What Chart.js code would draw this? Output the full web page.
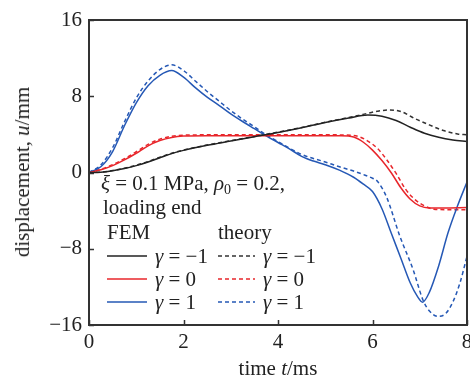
<!DOCTYPE html>
<html>
<head>
<meta charset="utf-8">
<script src="https://cdn.jsdelivr.net/npm/chart.js@4"></script>
<style>
  body { margin: 0; background: #fff; }
  #wrap {
    position: relative; width: 470px; height: 381px; overflow: hidden;
    font-family: "Liberation Serif", "Times New Roman", serif;
    font-size: 21px; color: #222;
  }
  #chart { position: absolute; left: 0; top: 0; }
  .t { position: absolute; white-space: nowrap; line-height: 24px; }
  .ytitle { left: 22px; top: 172px; transform: translate(-50%, -50%) rotate(-90deg); }
  .xtitle { left: 278px; top: 368px; transform: translate(-50%, -50%); }
  .sample { position: absolute; width: 40px; height: 4px; }
  sub { font-size: 14px; vertical-align: -4px; line-height: 0; }
</style>
</head>
<body>
<div id="wrap">
  <canvas id="chart" width="470" height="381"></canvas>
  <div class="t ytitle">displacement, <i>u</i>/mm</div>
  <div class="t xtitle">time <i>t</i>/ms</div>
  <div class="t" style="left:101px;top:171px"><i>ξ</i> = 0.1 MPa, <i>ρ</i><sub>0</sub> = 0.2,</div>
  <div class="t" style="left:103px;top:195px">loading end</div>
  <div class="t" style="left:107px;top:220px">FEM</div>
  <div class="t" style="left:218px;top:220px">theory</div>
  <div id="legend"></div>
</div>
<script>
(function () {
  "use strict";

  // --- Data ---

  var xTicks = [0, 2, 4, 6, 8];
  var yTicks = [-16, -8, 0, 8, 16];

  var femBlackT = [0, 0.25, 0.5, 0.75, 1.0, 1.25, 1.5, 1.75, 2.0, 2.5, 3.0, 3.5, 4.0, 4.5, 5.0, 5.5, 5.9, 6.2, 6.5, 6.8, 7.1, 7.4, 7.7, 8.0];
  var femBlackU = [0, 0.03, 0.18, 0.42, 0.72, 1.1, 1.55, 1.98, 2.32, 2.85, 3.3, 3.75, 4.2, 4.7, 5.25, 5.72, 6.02, 5.9, 5.45, 4.75, 4.12, 3.7, 3.42, 3.25];

  var thBlackT = [0, 0.25, 0.5, 0.75, 1.0, 1.25, 1.5, 1.75, 2.0, 2.5, 3.0, 3.5, 4.0, 4.5, 5.0, 5.5, 5.8, 6.1, 6.35, 6.6, 6.9, 7.2, 7.5, 7.8, 8.0];
  var thBlackU = [0, 0.04, 0.2, 0.45, 0.76, 1.15, 1.6, 2.02, 2.35, 2.88, 3.33, 3.78, 4.23, 4.72, 5.27, 5.78, 6.1, 6.42, 6.56, 6.4, 5.65, 5.0, 4.4, 4.05, 3.95];

  var femRedT = [0, 0.25, 0.5, 0.75, 1.0, 1.25, 1.5, 1.75, 2.0, 2.5, 3.0, 4.0, 5.0, 5.3, 5.6, 5.8, 6.0, 6.2, 6.4, 6.6, 6.8, 7.0, 7.2, 7.5, 8.0];
  var femRedU = [0, 0.28, 0.72, 1.32, 2.02, 2.8, 3.35, 3.68, 3.82, 3.86, 3.86, 3.86, 3.86, 3.85, 3.72, 3.2, 2.35, 1.25, -0.05, -1.6, -2.8, -3.5, -3.72, -3.72, -3.68];

  var thRedT = [0, 0.25, 0.5, 0.75, 1.0, 1.25, 1.5, 1.75, 2.0, 2.5, 3.0, 4.0, 5.0, 5.4, 5.7, 5.9, 6.1, 6.3, 6.5, 6.7, 6.9, 7.1, 7.3, 7.6, 8.0];
  var thRedU = [0, 0.33, 0.82, 1.45, 2.18, 2.95, 3.5, 3.8, 3.92, 3.95, 3.95, 3.95, 3.95, 3.94, 3.78, 3.3, 2.55, 1.35, -0.1, -1.75, -2.85, -3.5, -3.85, -3.9, -3.9];

  var femBlueT = [0, 0.25, 0.5, 0.75, 1.0, 1.25, 1.5, 1.75, 2.0, 2.25, 2.5, 2.75, 3.0, 3.25, 3.5, 3.75, 4.0, 4.25, 4.5, 4.75, 5.0, 5.3, 5.6, 5.8, 6.0, 6.2, 6.4, 6.6, 6.8, 6.95, 7.06, 7.2, 7.4, 7.6, 7.8, 8.0];
  var femBlueU = [0, 0.6, 2.2, 4.9, 7.3, 9.1, 10.2, 10.7, 10.0, 8.9, 7.9, 7.05, 6.15, 5.35, 4.6, 3.85, 3.15, 2.45, 1.7, 1.2, 0.82, 0.25, -0.5, -1.2, -2.0, -3.8, -6.4, -9.0, -11.6, -13.0, -13.6, -12.6, -9.8, -6.3, -3.5, -1.0];

  var thBlueT = [0, 0.25, 0.5, 0.75, 1.0, 1.25, 1.5, 1.75, 2.0, 2.25, 2.5, 2.75, 3.0, 3.25, 3.5, 3.75, 4.0, 4.5, 5.0, 5.3, 5.6, 5.8, 6.0, 6.1, 6.3, 6.58, 6.86, 7.07, 7.2, 7.39, 7.55, 7.7, 7.85, 8.0];
  var thBlueU = [0, 0.8, 2.6, 5.3, 7.8, 9.6, 10.8, 11.3, 10.7, 9.6, 8.5, 7.5, 6.5, 5.6, 4.8, 3.95, 3.25, 1.9, 1.1, 0.6, 0.15, -0.2, -0.6, -0.9, -2.6, -6.7, -10.2, -13.4, -14.5, -15.1, -14.8, -13.6, -11.6, -8.8];

  var seriesLabels = ["γ = −1", "γ = 0", "γ = 1"];
  var seriesColors = ["#222222", "#e8262b", "#2558b5"];
  var dash = [4, 3];
  var font = "Liberation Serif";

  function pts(ts, us) {
    return ts.map(function (t, i) { return { x: t, y: us[i] }; });
  }

  function line(label, data, color, dashed) {
    return {
      label: label,
      data: data,
      borderColor: color,
      borderWidth: 1.5,
      borderDash: dashed ? dash : [],
      pointRadius: 0,
      fill: false,
      cubicInterpolationMode: "monotone",
    };
  }

  var datasets = [
    line("FEM -1", pts(femBlackT, femBlackU), seriesColors[0], false),
    line("FEM 0", pts(femRedT, femRedU), seriesColors[1], false),
    line("FEM 1", pts(femBlueT, femBlueU), seriesColors[2], false),
    line("theory -1", pts(thBlackT, thBlackU), "#333333", true),
    line("theory 0", pts(thRedT, thRedU), seriesColors[1], true),
    line("theory 1", pts(thBlueT, thBlueU), seriesColors[2], true),
  ];

  // box round the plot and short inward ticks
  var frame = {
    id: "frame",
    afterDatasetsDraw: function (chart) {
      var ctx = chart.ctx, a = chart.chartArea;
      var xs = chart.scales.x, ys = chart.scales.y;
      ctx.save();
      ctx.strokeStyle = "#333";
      ctx.lineWidth = 2;
      ctx.strokeRect(a.left, a.top, a.right - a.left, a.bottom - a.top);
      ctx.lineWidth = 1.5;
      ctx.beginPath();
      xTicks.forEach(function (v) {
        var px = Math.round(xs.getPixelForValue(v)) + 0.5;
        ctx.moveTo(px, a.bottom);
        ctx.lineTo(px, a.bottom - 5);
      });
      yTicks.forEach(function (v) {
        var py = Math.round(ys.getPixelForValue(v)) + 0.5;
        ctx.moveTo(a.left, py);
        ctx.lineTo(a.left + 5, py);
      });
      ctx.stroke();
      ctx.restore();
    },
  };

  new Chart(document.getElementById("chart"), {
    type: "line",
    data: { datasets: datasets },
    options: {
      responsive: false,
      animation: false,
      devicePixelRatio: 1,
      layout: { padding: { top: 20, right: 3, left: 0, bottom: 0 } },
      plugins: { legend: { display: false }, tooltip: { enabled: false } },
      scales: {
        x: {
          type: "linear", min: 0, max: 8,
          grid: { display: false, drawTicks: false },
          border: { display: false },
          afterBuildTicks: function (s) { s.ticks = xTicks.map(function (v) { return { value: v }; }); },
          afterFit: function (s) { s.height = 56; s.paddingLeft = 0; s.paddingRight = 0; },
          ticks: { color: "#222", padding: 5, maxRotation: 0, font: { family: font, size: 21 } },
        },
        y: {
          min: -16, max: 16,
          grid: { display: false, drawTicks: false },
          border: { display: false },
          afterBuildTicks: function (s) { s.ticks = yTicks.map(function (v) { return { value: v }; }); },
          afterFit: function (s) { s.width = 89; s.paddingTop = 0; s.paddingBottom = 0; },
          ticks: {
            color: "#222", padding: 7, font: { family: font, size: 21 },
            callback: function (v) { return v < 0 ? "\u2212" + Math.abs(v) : String(v); },
          },
        },
      },
    },
    plugins: [frame],
  });

  // --- legend rows (FEM solid, theory dashed) ---
  var legend = document.getElementById("legend");
  var rowY = [256, 279, 302];
  seriesLabels.forEach(function (lab, i) {
    [[107, 155, false], [218, 263, true]].forEach(function (c) {
      var svg = document.createElementNS("http://www.w3.org/2000/svg", "svg");
      svg.setAttribute("class", "sample");
      svg.setAttribute("width", c[2] ? 37 : 40);
      svg.setAttribute("height", 4);
      svg.style.left = c[0] + "px";
      svg.style.top = rowY[i] - 2 + "px";
      var ln = document.createElementNS("http://www.w3.org/2000/svg", "line");
      ln.setAttribute("x1", 0); ln.setAttribute("x2", c[2] ? 37 : 40);
      ln.setAttribute("y1", 2); ln.setAttribute("y2", 2);
      ln.setAttribute("stroke", c[2] && i === 0 ? "#333" : seriesColors[i]);
      ln.setAttribute("stroke-width", 1.5);
      if (c[2]) ln.setAttribute("stroke-dasharray", dash.join(" "));
      svg.appendChild(ln);
      legend.appendChild(svg);
      var t = document.createElement("div");
      t.className = "t";
      t.style.left = c[1] + "px";
      t.style.top = rowY[i] - 12 + "px";
      t.innerHTML = "<i>γ</i>" + lab.slice(1);
      legend.appendChild(t);
    });
  });
})();
</script>
</body>
</html>
